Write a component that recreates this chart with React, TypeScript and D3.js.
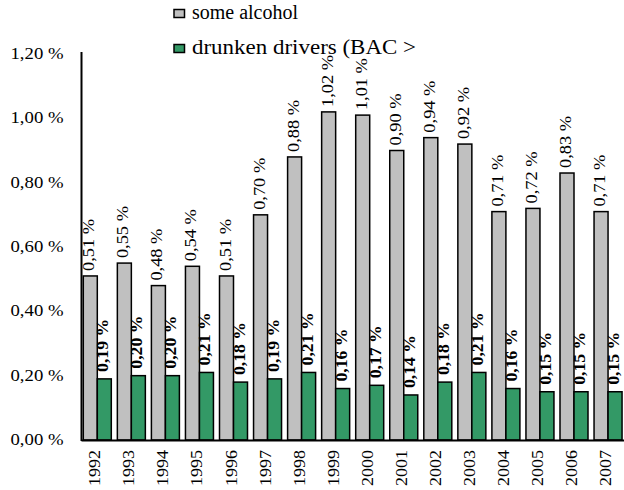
import React from "react";
import * as d3 from "d3";

const years = ["1992","1993","1994","1995","1996","1997","1998","1999","2000","2001","2002","2003","2004","2005","2006","2007"];
const someAlcohol = [0.51,0.55,0.48,0.54,0.51,0.70,0.88,1.02,1.01,0.90,0.94,0.92,0.71,0.72,0.83,0.71];
const drunken = [0.19,0.20,0.20,0.21,0.18,0.19,0.21,0.16,0.17,0.14,0.18,0.21,0.16,0.15,0.15,0.15];
const yTicks = [0,0.2,0.4,0.6,0.8,1.0,1.2];
const seriesNames = ["some alcohol", "drunken drivers (BAC >"];
const colors = ["#C0C0C0", "#339966"];

const fmt = (v: number) => v.toFixed(2).replace(".", ",") + " %";
const FONT = "Liberation Serif";
const legendLens = [106, 224];

export default function App() {
  const W = 624, H = 490;
  const axisX = 81.5;
  const y = d3.scaleLinear().domain([0, 1.2]).range([440, 54]);
  const x = d3.scaleBand().domain(years).range([80.3, 80.3 + 34.05 * 16]).paddingInner(0).paddingOuter(0);
  const inner = d3.scaleBand().domain(["a", "d"]).range([3, 31]).padding(0);
  return (
    <svg width={W} height={H} style={{ position: "absolute", left: 0, top: 0 }}>
      <rect width={W} height={H} fill="#fff" />
      {/* legend */}
      {seriesNames.map((n, i) => (
        <g key={n} transform={`translate(0, ${i * 35})`}>
          <rect x={174} y={9.5} width={10.5} height={8} fill={colors[i]} stroke="#000" strokeWidth={1.5} />
          <text x={192} y={18.5} fontSize={20} fontFamily={FONT} textLength={legendLens[i]} lengthAdjust="spacingAndGlyphs">{n}</text>
        </g>
      ))}
      {/* y axis labels */}
      {yTicks.map((t) => (
        <text key={t} x={63.5} y={y(t) + 5} fontSize={17} fontFamily={FONT} textAnchor="end" textLength={53} lengthAdjust="spacingAndGlyphs">{fmt(t)}</text>
      ))}
      {/* bars */}
      {years.map((yr, i) => {
        const gx = x(yr)!;
        const ax = gx + inner("a")!;
        const dx = gx + inner("d")!;
        const bw = inner.bandwidth();
        return (
          <g key={yr}>
            <rect x={ax} y={y(someAlcohol[i])} width={bw} height={y(0) - y(someAlcohol[i])} fill={colors[0]} stroke="#000" strokeWidth={1.5} />
            <rect x={dx} y={y(drunken[i])} width={bw} height={y(0) - y(drunken[i])} fill={colors[1]} stroke="#000" strokeWidth={1.5} />
            <text transform={`translate(${ax + bw / 2 + 4}, ${y(someAlcohol[i]) - 5}) rotate(-90)`} fontSize={16} fontFamily={FONT} textLength={52} lengthAdjust="spacingAndGlyphs">{fmt(someAlcohol[i])}</text>
            <text transform={`translate(${dx + 11}, ${y(drunken[i]) - 7}) rotate(-90)`} fontSize={17} fontWeight="bold" fontFamily={FONT} textLength={53} lengthAdjust="spacingAndGlyphs">{fmt(drunken[i])}</text>
            <text transform={`translate(${gx + 20}, 450) rotate(-90)`} fontSize={16.5} fontFamily={FONT} textAnchor="end" textLength={36} lengthAdjust="spacingAndGlyphs">{yr}</text>
          </g>
        );
      })}
      {/* axes */}
      <line x1={axisX} x2={axisX} y1={52} y2={441} stroke="#000" strokeWidth={2} />
      <line x1={axisX} x2={W} y1={440.5} y2={440.5} stroke="#000" strokeWidth={2} />
    </svg>
  );
}
